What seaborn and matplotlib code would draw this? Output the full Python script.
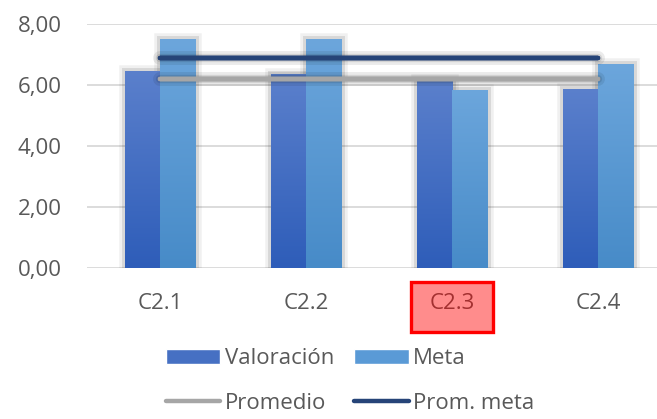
import numpy as np
import pandas as pd
import seaborn as sns
import matplotlib
matplotlib.use("Agg")
import matplotlib.pyplot as plt
from matplotlib import patheffects as pe
from matplotlib.colors import LinearSegmentedColormap, to_hex
from matplotlib.patches import Rectangle, Patch
from matplotlib.lines import Line2D
from matplotlib.transforms import blended_transform_factory
from matplotlib.ticker import FuncFormatter

# --- data -------------------------------------------------------------
categorias = ["C2.1", "C2.2", "C2.3", "C2.4"]
valoracion = [6.46, 6.36, 6.16, 5.87]
meta = [7.50, 7.50, 5.84, 6.69]
yticks = [0, 2, 4, 6, 8]
resaltada = "C2.3"

promedio = float(np.mean(valoracion))
prom_meta = float(np.mean(meta))

# --- style ------------------------------------------------------------
sns.set_theme(style="white")
plt.rcParams["font.family"] = ["Open Sans", "DejaVu Sans"]
GRIS_TXT = "#595959"
FS = 16

col_val = "#3F68C0"
col_meta = "#569BD8"
grad = {
    to_hex(col_val): ("#2E5DB9", "#5B80CC"),   # bottom, top
    to_hex(col_meta): ("#478BC8", "#6CA6DC"),
}

W, H = 657, 419
fig = plt.figure(figsize=(W / 100, H / 100), dpi=100)
ax = fig.add_axes([87 / W, 151 / H, 1 - 87 / W, 244 / H])

df = pd.DataFrame({
    "Categoría": categorias * 2,
    "Valor": valoracion + meta,
    "Serie": ["Valoración"] * len(categorias) + ["Meta"] * len(categorias),
})
sns.barplot(data=df, x="Categoría", y="Valor", hue="Serie",
            palette=[col_val, col_meta], width=0.48, gap=0, ax=ax,
            legend=False, errorbar=None, saturation=1)

# gradient fill + soft halo on each bar
halo = [pe.withStroke(linewidth=9, foreground="#000000", alpha=0.06),
        pe.withStroke(linewidth=5, foreground="#000000", alpha=0.10)]
for bar in list(ax.patches):
    fc = to_hex(bar.get_facecolor())
    lo, hi = grad.get(fc, (fc, fc))
    x0, y0 = bar.get_x(), bar.get_y()
    w, h = bar.get_width(), bar.get_height()
    bar.set_path_effects(halo)
    bar.set_edgecolor("none")
    cmap = LinearSegmentedColormap.from_list("g", [lo, hi])
    img = ax.imshow(np.linspace(0, 1, 256).reshape(-1, 1), cmap=cmap,
                    extent=[x0, x0 + w, y0, y0 + h], origin="lower",
                    aspect="auto", zorder=bar.get_zorder() + 0.05,
                    interpolation="bilinear")
    img.set_clip_path(bar)

# average lines
xs = np.arange(len(categorias))
sombra = [pe.withStroke(linewidth=10, foreground="#000000", alpha=0.08),
          pe.withStroke(linewidth=6, foreground="#000000", alpha=0.10),
          pe.Normal()]
ax.plot(xs, [promedio] * len(xs), color="#A6A6A6", lw=3.2,
        solid_capstyle="round", zorder=5, path_effects=sombra)
ax.plot(xs, [prom_meta] * len(xs), color="#264478", lw=3.2,
        solid_capstyle="round", zorder=5, path_effects=sombra)

# axes
ax.set_xlim(-0.5, (W - 160) / 146)
ax.set_ylim(0, 8)
ax.set_yticks(yticks)
ax.yaxis.set_major_formatter(FuncFormatter(lambda v, _: f"{v:.2f}".replace(".", ",")))
ax.yaxis.grid(True, color="#D9D9D9", lw=1.3)
ax.set_axisbelow(True)
ax.set_xlabel("")
ax.set_ylabel("")
sns.despine(ax=ax, left=True, bottom=True, right=True, top=True)
ax.tick_params(axis="y", length=0, pad=18, labelsize=FS, labelcolor=GRIS_TXT)
ax.tick_params(axis="x", length=0, pad=18, labelsize=FS, labelcolor=GRIS_TXT)

# highlighted category label
idx = categorias.index(resaltada)
tr = blended_transform_factory(ax.transData, fig.transFigure)
fig.add_artist(Rectangle((idx - 41 / 146, (H - 332) / H), 82 / 146, 50 / H,
                         transform=tr, facecolor=(1, 0, 0, 0.45),
                         edgecolor="#FF0000", lw=2.4, zorder=10))

# legend
handles = [
    Patch(facecolor="#4670C3", label="Valoración"),
    Line2D([], [], color="#A6A6A6", lw=3.2, label="Promedio"),
    Patch(facecolor="#5A9AD6", label="Meta"),
    Line2D([], [], color="#264478", lw=3.2, label="Prom. meta"),
]
leg = fig.legend(handles=handles, ncol=2, loc="center",
                 bbox_to_anchor=(350 / W, 38 / H), frameon=False,
                 fontsize=FS, handlelength=2.45, handleheight=0.72,
                 handletextpad=0.2, columnspacing=0.9, labelspacing=1.05)
for t in leg.get_texts():
    t.set_color(GRIS_TXT)

fig.savefig("out.png", dpi=100)
